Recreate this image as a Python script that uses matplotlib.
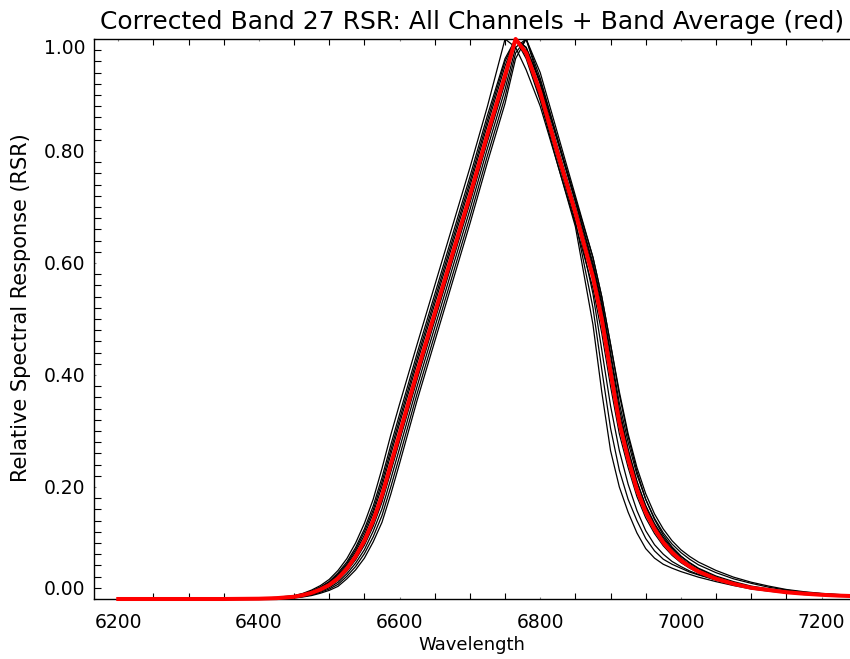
import matplotlib
matplotlib.use("Agg")
import matplotlib.pyplot as plt
from matplotlib.ticker import MultipleLocator, FormatStrFormatter

plt.rcParams['font.family'] = ['DejaVu Sans']

wavelength = [6200, 6250, 6300, 6350,
              6400, 6425, 6450, 6462.5, 6475, 6487.5, 6500, 6512.5, 6525, 6537.5,
              6550, 6562.5, 6575, 6587.5, 6600, 6625, 6650, 6675, 6700, 6725, 6750,
              6765, 6780, 6800, 6825, 6850, 6875, 6887.5, 6900, 6912.5, 6925, 6937.5,
              6950, 6962.5, 6975, 6987.5, 7000, 7012.5, 7025, 7050, 7075, 7100, 7125,
              7150, 7175, 7200, 7225, 7250]

Z = [0, 0, 0, 0]

ch_a = Z + [.001, .003, .006, .010, .016, .024, .035, .051, .072, .100, .135, .178, .233, .293,
            .348, .455, .56, .665, .77, .88, 1.0] + \
           [.985, .945, .88, .775, .67, .555, .475, .38, .295, .235, .183, .145, .117, .095, .078,
            .065, .055, .047, .035, .026, .019, .015, .011, .009, .007, .0055, .0045]
ch_b = Z + [.0008, .0023, .0054, .0092, .0142, .0215, .0314, .0466, .066, .092, .125, .166, .217,
            .275, .33, .439, .544, .649, .754, .864, .965] + \
           [1.0, .975, .91, .805, .7, .59, .515, .42, .33, .265, .21, .167, .135, .11, .091, .076,
            .065, .055, .041, .031, .023, .018, .014, .011, .0085, .007, .0055]
ch_c = Z + [.0007, .0019, .0047, .0081, .0126, .0192, .0282, .0418, .06, .084, .114, .153, .201,
            .258, .313, .422, .527, .632, .737, .847, .952] + \
           [1.0, .985, .925, .82, .715, .61, .54, .455, .37, .295, .235, .188, .152, .125, .104,
            .088, .076, .066, .051, .039, .03, .023, .017, .013, .01, .008, .006]
ch_d = Z + [.0005, .0015, .004, .007, .011, .017, .025, .037, .054, .076, .104, .14, .185, .24,
            .295, .405, .51, .615, .72, .83, .935] + \
           [1.0, .965, .89, .775, .665, .49, .37, .265, .2, .155, .118, .09, .073, .062, .055, .049,
            .044, .039, .031, .024, .018, .014, .011, .008, .0065, .005, .004]
ch_e = Z + [.0004, .0012, .0035, .0062, .0098, .0153, .0226, .0334, .0495, .07, .096, .130, .173,
            .227, .282, .392, .497, .602, .707, .817, .922] + \
           [1.0, .97, .895, .785, .675, .52, .41, .305, .23, .178, .14, .108, .086, .071, .062,
            .055, .048, .043, .034, .026, .02, .015, .012, .009, .007, .0055, .0045]
ch_f = Z + [.0003, .0009, .0029, .0053, .0086, .0136, .0202, .0298, .045, .064, .088, .121, .161,
            .214, .269, .380, .485, .590, .695, .805, .91] + \
           [.985, 1.0, .93, .82, .71, .595, .525, .435, .34, .268, .21, .165, .132, .107, .088,
            .073, .061, .051, .037, .028, .021, .016, .012, .0095, .0075, .006, .005]
ch_g = Z + [.0001, .0006, .0024, .0045, .0074, .012, .0178, .0262, .0405, .058, .081, .111, .149,
            .2, .255, .367, .472, .577, .682, .792, .897] + \
           [.975, 1.0, .94, .83, .72, .61, .54, .455, .365, .29, .228, .178, .142, .114, .093,
            .077, .064, .054, .039, .029, .022, .017, .013, .01, .008, .0065, .005]
ch_h = Z + [0, .0003, .0018, .0036, .0062, .0103, .0154, .0226, .036, .052, .073, .102, .137,
            .187, .242, .355, .46, .565, .67, .78, .885] + \
           [.965, 1.0, .92, .8, .69, .545, .445, .345, .265, .205, .158, .122, .097, .08, .067,
            .058, .05, .044, .034, .026, .02, .015, .012, .009, .007, .0055, .0045]
ch_i = Z + [.0007, .0021, .0051, .0087, .0134, .0204, .0298, .0442, .063, .088, .12, .159, .209,
            .266, .321, .43, .535, .64, .745, .855, .96] + \
           [1.0, .985, .92, .815, .71, .6, .53, .44, .35, .28, .222, .178, .144, .118, .098, .083,
            .071, .061, .047, .036, .028, .021, .016, .012, .0095, .0075, .006]
ch_j = Z + [.0004, .0013, .0036, .0064, .0102, .0159, .0234, .0346, .051, .072, .099, .134, .177,
            .231, .286, .397, .502, .607, .712, .822, .927] + \
           [1.0, .98, .91, .8, .695, .58, .51, .415, .325, .258, .2, .16, .128, .104, .085, .07,
            .059, .05, .037, .027, .02, .016, .012, .0095, .0075, .006, .005]

channels = [ch_a, ch_b, ch_c, ch_d, ch_e, ch_f, ch_g, ch_h, ch_i, ch_j]

band_average = Z + [.0005, .0015, .004, .007, .011, .017, .025, .037, .054, .076, .104, .14, .185,
                    .24, .295, .405, .51, .615, .72, .83, .935] + \
                   [1.0, .975, .905, .795, .69, .575, .5, .405, .315, .25, .195, .155, .125, .101,
                    .083, .069, .058, .049, .036, .027, .02, .016, .012, .0095, .0075, .006, .005]

y_ticks = [0.0, 0.2, 0.4, 0.6, 0.8, 1.0]
x_ticks = [6200, 6400, 6600, 6800, 7000, 7200]

title = "Corrected Band 27 RSR: All Channels + Band Average (red)"
xlabel = "Wavelength"
ylabel = "Relative Spectral Response (RSR)"

fig = plt.figure(figsize=(8.5, 6.59), dpi=100)
ax = fig.add_axes([94 / 850, 60 / 659, 1 - 94 / 850, 560 / 659])

for ch in channels:
    ax.plot(wavelength, ch, color='black', lw=0.9)
ax.plot(wavelength, band_average, color='red', lw=2.9, clip_on=False, zorder=5)

ax.set_xlim(6165.5, 7240.5)
ax.set_ylim(0, 1.0)

ax.set_xticks(x_ticks)
ax.xaxis.set_minor_locator(MultipleLocator(50))
ax.set_yticks(y_ticks)
ax.yaxis.set_minor_locator(MultipleLocator(0.02))
ax.yaxis.set_major_formatter(FormatStrFormatter('%.2f'))

ax.spines['right'].set_visible(False)
for s in ['left', 'top', 'bottom']:
    ax.spines[s].set_linewidth(1.0)

ax.tick_params(axis='both', which='both', direction='in', top=True, right=False)
ax.tick_params(axis='both', which='major', length=1.5, width=0.8, color='gray')
ax.tick_params(axis='x', which='major', labelsize=13.5, pad=10)
ax.tick_params(axis='y', which='major', labelsize=13.5, pad=6)
ax.tick_params(axis='x', which='minor', length=4, width=0.8)
ax.tick_params(axis='y', which='minor', length=5, width=0.8)

yt = ax.yaxis.get_major_ticks()
yt[0].label1.set_verticalalignment('bottom')
yt[-1].label1.set_verticalalignment('top')

ax.set_title(title, fontsize=18, pad=7)
ax.set_xlabel(xlabel, fontsize=13, labelpad=3)
ax.set_ylabel(ylabel, fontsize=15, labelpad=9)
ax.yaxis.set_label_coords(-0.0834, 0.52)

fig.savefig("out.png", dpi=100)
